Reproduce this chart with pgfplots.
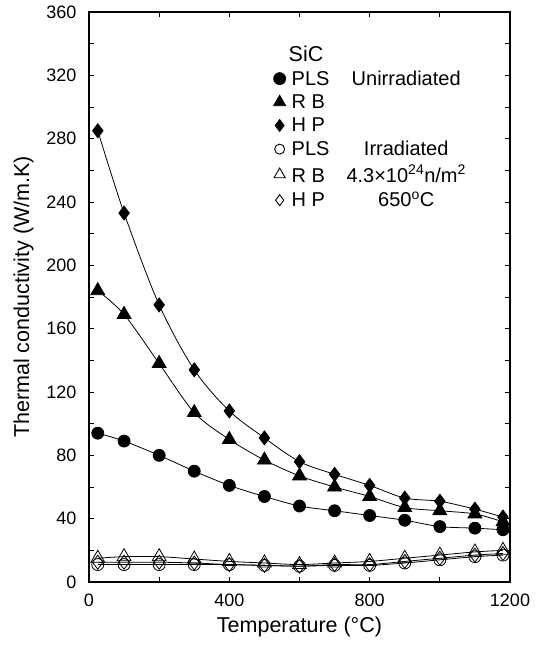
\documentclass[border=0pt]{standalone}
\usepackage{pgfplots}
\pgfplotsset{compat=1.18}
\usepackage{fontspec}
\setmainfont{Liberation Sans}
\begin{document}
\begin{tikzpicture}
\begin{axis}[
  scale only axis, width=421pt, height=570pt,
  xmin=0, xmax=1200, ymin=0, ymax=360,
  xtick={0,400,800,1200}, ytick={0,40,...,360},
  minor x tick num=1, minor y tick num=1,
  tick align=inside, major tick length=5pt, minor tick length=5pt,
  axis line style={line width=1.2pt},
  every tick/.style={line width=0.8pt, black},
  /pgf/number format/assume math mode=true,
  /pgf/number format/1000 sep={},
  ticklabel style={font=\fontsize{18}{20}\selectfont},
  yticklabel style={xshift=-9pt},
  xticklabel style={yshift=-8pt},
  xlabel={Temperature (°C)}, ylabel={Thermal conductivity (W/m.K)},
  label style={font=\fontsize{21.5}{24}\selectfont},
  xlabel style={yshift=-4pt},
  ylabel style={yshift=6pt},
  legend cell align=left,
  legend style={draw=none, fill=none, at={(rel axis cs:0.438,0.945)}, anchor=north west,
     font=\fontsize{20}{22}\selectfont, row sep=4pt, inner sep=0pt,
     /tikz/every odd column/.append style={column sep=4pt}},
  legend image code/.code={\draw[#1] plot coordinates {(0.15cm,0cm)};},
  every axis plot/.append style={line width=0.8pt, black, smooth, tension=0.5},
]
\addlegendimage{empty legend}
\addlegendentry{\hspace{-3pt}\fontsize{21.5}{24}\selectfont SiC}
\addplot[mark=*, mark size=6pt, mark options={fill=black}, forget plot] coordinates {
(25,94) (100,89) (200,80) (300,70) (400,61) (500,54) (600,48) (700,45) (800,42) (900,39) (1000,35) (1100,34) (1180,33)};
\addplot[mark=triangle*, mark size=8pt, mark options={fill=black}, forget plot] coordinates {
(25,184) (100,169) (200,138) (300,107) (400,90) (500,77) (600,67) (700,60) (800,54) (900,47) (1000,45) (1100,43) (1180,38)};
\addplot[mark=diamond*, mark size=7pt, mark options={fill=black}, forget plot] coordinates {
(25,285) (100,233) (200,175) (300,134) (400,108) (500,91) (600,76) (700,68) (800,61) (900,53) (1000,51) (1100,46) (1180,41)};
\addplot[mark=o, mark size=6pt, mark options={fill=white}, forget plot] coordinates {
(25,11) (100,11) (200,11) (300,11) (400,11) (500,10.5) (600,10) (700,10.5) (800,10.5) (900,12) (1000,14) (1100,16) (1180,17)};
\addplot[mark=triangle, mark size=8pt, mark options={fill=white}, forget plot] coordinates {
(25,15) (100,16) (200,16) (300,14.5) (400,13) (500,12) (600,11) (700,12) (800,13) (900,15) (1000,17) (1100,19) (1180,20)};
\addplot[mark=diamond, mark size=7pt, mark options={fill=white}, forget plot] coordinates {
(25,12.5) (100,12.5) (200,12.5) (300,12) (400,11) (500,10.5) (600,10) (700,11) (800,11) (900,13) (1000,15) (1100,17) (1180,18)};
\addlegendimage{only marks, mark=*, mark size=6pt, fill=black}
\addlegendentry{\makebox[52pt][l]{PLS}\makebox[125pt][c]{Unirradiated}}
\addlegendimage{only marks, mark=triangle*, mark size=7pt, fill=black}
\addlegendentry{\makebox[52pt][l]{R B}}
\addlegendimage{only marks, mark=diamond*, mark size=6pt, fill=black}
\addlegendentry{\makebox[52pt][l]{H P}}
\addlegendimage{only marks, mark=o, mark size=5pt, line width=0.9pt}
\addlegendentry{\makebox[52pt][l]{PLS}\makebox[125pt][c]{Irradiated}}
\addlegendimage{only marks, mark=triangle, mark size=6.5pt, line width=0.9pt}
\addlegendentry{\makebox[52pt][l]{R B}\makebox[125pt][c]{4.3×10\textsuperscript{24}n/m\textsuperscript{2}}}
\addlegendimage{only marks, mark=diamond, mark size=5.5pt, line width=0.9pt}
\addlegendentry{\makebox[52pt][l]{H P}\makebox[125pt][c]{650\textsuperscript{o}C}}
\end{axis}
\useasboundingbox ([shift={(-89pt,-69pt)}]current axis.south west) rectangle ([shift={(28pt,12pt)}]current axis.north east);
\end{tikzpicture}
\end{document}
